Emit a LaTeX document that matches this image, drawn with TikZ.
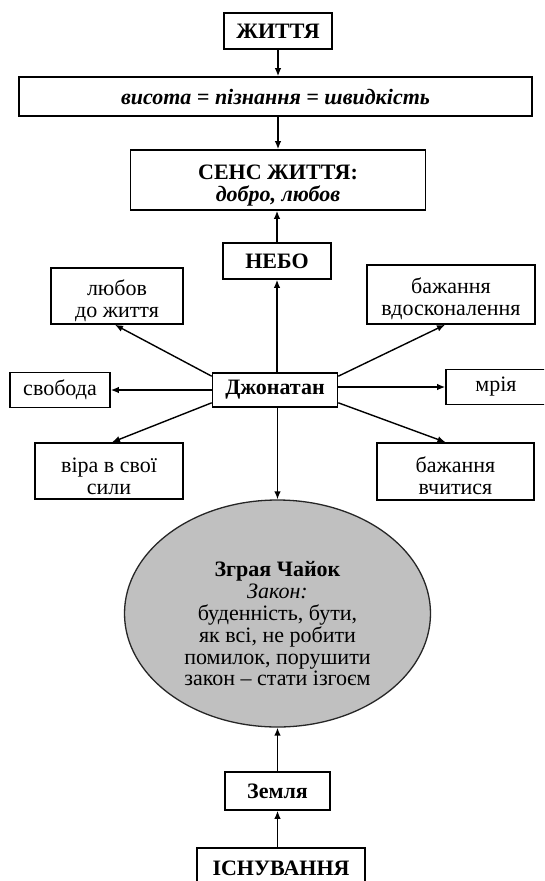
\documentclass[tikz,border=0pt]{standalone}
\usepackage{fontspec}
\setmainfont{Liberation Serif}
\usetikzlibrary{arrows.meta,calc,shapes.geometric}
\definecolor{ellfill}{RGB}{192,192,192}
\newcommand{\lowstrut}{\rule{0pt}{25pt}}
\tikzset{
  box/.style={draw, line width=1.6pt, fill=white, inner sep=0pt, align=center,
    font=\fontsize{22}{22}\selectfont},
  arr/.style={-{Latex[length=8pt,width=6.5pt]}, line width=1.4pt},
}
\begin{document}
\begin{tikzpicture}[x=1pt,y=-1pt]
\clip (0,0) rectangle (544,881);
\fill[white] (0,0) rectangle (544,881);

\node[box, minimum width=108pt, minimum height=36pt] (zh) at (278,31) {\textbf{ЖИТТЯ}};
\node[box, minimum width=513pt, minimum height=39pt] (formula) at (275.5,96.5) {\textbf{\textit{висота = пізнання = швидкість}}};
\node[box, minimum width=295pt, minimum height=60pt] (sens) at (278,180) {\lowstrut\textbf{СЕНС ЖИТТЯ:}\\\textbf{\textit{добро, любов}}};
\node[box, minimum width=108pt, minimum height=36pt] (nebo) at (277,261) {\textbf{НЕБО}};

\node[box, minimum width=132pt, minimum height=56pt] (lyubov) at (117,296) {\lowstrut любов\\до життя};
\node[box, minimum width=168pt, minimum height=59pt] (vdosk) at (451,294.5) {\lowstrut бажання\\вдосконалення};
\node[box, minimum width=100pt, minimum height=35pt] (svoboda) at (60,390) {свобода};
\node[box, minimum width=125pt, minimum height=34pt] (dzh) at (275,390) {\textbf{Джонатан}};
\node[box, minimum width=100pt, minimum height=35pt] (mriya) at (496,387) {мрія};
\node[box, minimum width=148pt, minimum height=56pt] (vira) at (109,471) {\lowstrut віра в свої\\сили};
\node[box, minimum width=157pt, minimum height=57pt] (vch) at (455.5,471.5) {\lowstrut бажання\\вчитися};

\node[ellipse, draw=black!85, line width=1.3pt, fill=ellfill, minimum width=306pt, minimum height=227pt, inner sep=0pt] (ell) at (277.5,613.5) {};
\node[align=center, inner sep=0pt, font=\fontsize{22}{21.8}\selectfont] (elltext) at (277.5,624) {\textbf{Зграя Чайок}\\\textit{Закон:}\\буденність, бути,\\як всі, не робити\\помилок, порушити\\закон – стати ізгоєм};

\node[box, minimum width=105pt, minimum height=38pt] (zemlia) at (277.5,791) {\textbf{Земля}};
\node[box, minimum width=168pt, minimum height=40pt] (isn) at (281,868) {\textbf{ІСНУВАННЯ}};

% vertical axis
\draw[arr] (zh.south) -- (zh.south |- formula.north);
\draw[arr] (zh.south |- formula.south) -- (zh.south |- sens.north);
\draw[arr] (nebo.north) -- (nebo.north |- sens.south);
\draw[arr] (nebo.south |- dzh.north) -- (nebo.south);
\draw[arr] (ell.north |- dzh.south) -- (ell.north);
\draw[arr] (zemlia.north) -- (zemlia.north |- ell.south);
\draw[arr] (zemlia.south |- isn.north) -- (zemlia.south);

% spokes
\draw[arr] ($(dzh.north west)+(0,4)$) -- ($(lyubov.south)+(-2,0)$);
\draw[arr] (dzh.west) -- (svoboda.east);
\draw[arr] ($(dzh.south west)+(0,-5)$) -- ($(vira.north)+(3,0)$);
\draw[arr] ($(dzh.north east)+(0,4)$) -- ($(vdosk.south)+(-6,0)$);
\draw[arr] (dzh.east |- mriya.west) -- (mriya.west);
\draw[arr] ($(dzh.south east)+(0,-5)$) -- ($(vch.north)+(-10,0)$);
\end{tikzpicture}
\end{document}
